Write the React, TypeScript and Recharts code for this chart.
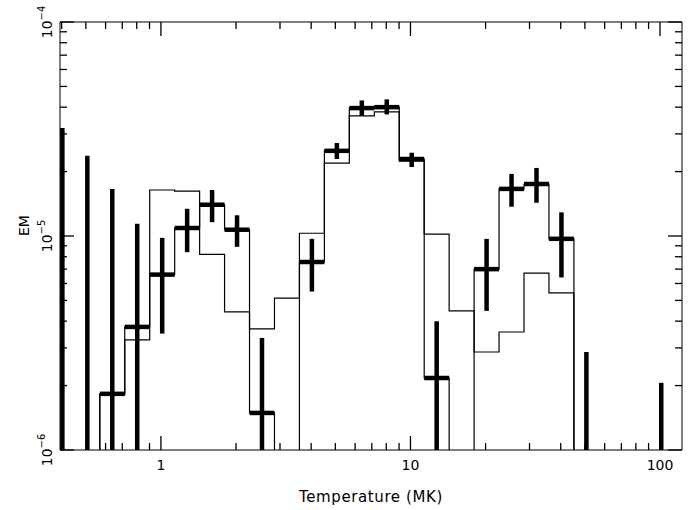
import React from "react";
import {
  ComposedChart,
  Line,
  XAxis,
  YAxis,
  ReferenceLine,
} from "recharts";

// bin centres: 10^(-0.4 + 0.1k), k = 0..24
const binIndex = Array.from({ length: 25 }, (_, k) => k);
const FLOOR = 1e-8; // below the plotted range

// thin histograms (null = below axis)
const modelA: (number | null)[] = [
  null, null, 1.83e-6, 3.27e-6, 1.64e-5, 1.62e-5, 8.2e-6, 4.42e-6, 3.68e-6,
  5.13e-6, 1.03e-5, 2.19e-5, 3.64e-5, 3.8e-5, 2.24e-5, 1.02e-5, 4.47e-6,
  2.87e-6, 3.56e-6, 6.7e-6, 5.42e-6, null, null, null, null,
];
const modelB: (number | null)[] = [
  null, null, 1.83e-6, 3.76e-6, 6.6e-6, 1.09e-5, 1.4e-5, 1.07e-5, 1.49e-6,
  null, 7.56e-6, 2.5e-5, 3.96e-5, 4.0e-5, 2.29e-5, 2.17e-6, null, 7.0e-6,
  1.66e-5, 1.75e-5, 9.7e-6, null, null, null, null,
];

// measured points with errors [k, value, lower, upper]
const points: [number, number, number, number][] = [
  [2, 1.83e-6, 1e-6, 1.66e-5],
  [3, 3.76e-6, 1e-6, 1.14e-5],
  [4, 6.6e-6, 3.5e-6, 9.8e-6],
  [5, 1.09e-5, 8.4e-6, 1.34e-5],
  [6, 1.4e-5, 1.16e-5, 1.64e-5],
  [7, 1.07e-5, 8.9e-6, 1.25e-5],
  [8, 1.49e-6, 1e-6, 3.34e-6],
  [10, 7.56e-6, 5.5e-6, 9.7e-6],
  [11, 2.5e-5, 2.29e-5, 2.72e-5],
  [12, 3.96e-5, 3.65e-5, 4.3e-5],
  [13, 4.0e-5, 3.7e-5, 4.35e-5],
  [14, 2.29e-5, 2.1e-5, 2.45e-5],
  [15, 2.17e-6, 1e-6, 4.0e-6],
  [17, 7.0e-6, 4.47e-6, 9.7e-6],
  [18, 1.66e-5, 1.37e-5, 1.95e-5],
  [19, 1.75e-5, 1.43e-5, 2.08e-5],
  [20, 9.7e-6, 6.4e-6, 1.29e-5],
];
// upper limits only [k, upper]
const limits: [number, number][] = [
  [0, 3.2e-5],
  [1, 2.37e-5],
  [21, 2.87e-6],
  [24, 2.06e-6],
];

const xMajor = [1, 10, 100];
const xTicks = [
  0.4, 0.5, 0.6, 0.7, 0.8, 0.9, 1, 2, 3, 4, 5, 6, 7, 8, 9, 10,
  20, 30, 40, 50, 60, 70, 80, 90, 100,
];
const yMajor = [1e-6, 1e-5, 1e-4];
const yTicks = [
  1e-6, 2e-6, 3e-6, 4e-6, 5e-6, 6e-6, 7e-6, 8e-6, 9e-6,
  1e-5, 2e-5, 3e-5, 4e-5, 5e-5, 6e-5, 7e-5, 8e-5, 9e-5, 1e-4,
];

const centre = (k: number) => Math.pow(10, -0.395 + 0.1 * k);
const edgeL = (k: number) => Math.pow(10, -0.445 + 0.1 * k);
const edgeR = (k: number) => Math.pow(10, -0.345 + 0.1 * k);

const steps = (vals: (number | null)[]) => {
  const out: { x: number; y: number }[] = [];
  binIndex.forEach((k) => {
    const v = vals[k] ?? FLOOR;
    out.push({ x: edgeL(k), y: v }, { x: edgeR(k), y: v });
  });
  return out;
};

const isMajor = (v: number, list: number[]) =>
  list.some((m) => Math.abs(m - v) / m < 1e-6);

const FONT = "DejaVu Sans";

const XTick = ({ x, y, payload, side }: any) => {
  const major = isMajor(payload.value, xMajor);
  const len = major ? 14 : 7;
  const dir = side === "top" ? 1 : -1;
  return (
    <g>
      <line x1={x} x2={x} y1={y} y2={y + dir * len} stroke="#000" strokeWidth={1.3} />
      {major && side !== "top" && (
        <text x={x} y={y + 20} textAnchor="middle" fontFamily={FONT} fontSize={14}>
          {payload.value}
        </text>
      )}
    </g>
  );
};

const YTick = ({ x, y, payload, side }: any) => {
  const major = isMajor(payload.value, yMajor);
  const len = major ? 14 : 7;
  const dir = side === "right" ? -1 : 1;
  const exp = Math.round(Math.log10(payload.value));
  return (
    <g>
      <line x1={x} x2={x + dir * len} y1={y} y2={y} stroke="#000" strokeWidth={1.3} />
      {major && side !== "right" && (
        <text
          transform={`translate(${x - 8},${y}) rotate(-90)`}
          textAnchor="middle"
          fontFamily={FONT}
          fontSize={14}
        >
          10
          <tspan dy={-7} fontSize={10}>
            {"\u2212" + Math.abs(exp)}
          </tspan>
        </text>
      )}
    </g>
  );
};

export default function App() {
  const thick = 4.5;
  return (
    <div style={{ position: "absolute", left: 0, top: 0, background: "#fff" }}>
      <ComposedChart
        width={695}
        height={510}
        margin={{ top: 0, right: 0, bottom: 0, left: 0 }}
      >
        <XAxis
          xAxisId={0}
          type="number"
          dataKey="x"
          scale="log"
          domain={[0.394, 122.5]}
          allowDataOverflow
          ticks={xTicks}
          interval={0}
          tickSize={0}
          tickMargin={0}
          tickLine={false}
          height={60}
          stroke="#000"
          tick={<XTick side="bottom" />}
          label={{
            value: "Temperature (MK)",
            position: "insideBottom",
            offset: 8,
            style: { fontFamily: FONT, fontSize: 15, letterSpacing: 0.6, fill: "#000" },
          }}
        />
        <XAxis
          xAxisId="top"
          orientation="top"
          type="number"
          dataKey="x"
          scale="log"
          domain={[0.394, 122.5]}
          allowDataOverflow
          ticks={xTicks}
          interval={0}
          tickSize={0}
          tickMargin={0}
          tickLine={false}
          height={22}
          stroke="#000"
          tick={<XTick side="top" />}
        />
        <YAxis
          yAxisId={0}
          type="number"
          scale="log"
          domain={[1e-6, 1e-4]}
          allowDataOverflow
          ticks={yTicks}
          interval={0}
          tickSize={0}
          tickMargin={0}
          tickLine={false}
          width={60}
          stroke="#000"
          tick={<YTick side="left" />}
          label={{
            value: "EM",
            angle: -90,
            position: "insideLeft",
            offset: 24,
            style: { fontFamily: FONT, fontSize: 14, fill: "#000" },
          }}
        />
        <YAxis
          yAxisId="right"
          orientation="right"
          type="number"
          scale="log"
          domain={[1e-6, 1e-4]}
          allowDataOverflow
          ticks={yTicks}
          interval={0}
          tickSize={0}
          tickMargin={0}
          tickLine={false}
          width={13}
          stroke="#000"
          tick={<YTick side="right" />}
        />
        <Line
          data={steps(modelA)}
          dataKey="y"
          type="linear"
          stroke="#000"
          strokeWidth={1.2}
          dot={false}
          isAnimationActive={false}
        />
        <Line
          data={steps(modelB)}
          dataKey="y"
          type="linear"
          stroke="#000"
          strokeWidth={1.2}
          dot={false}
          isAnimationActive={false}
        />
        {points.map(([k, v, lo, hi]) => (
          <ReferenceLine
            key={`v${k}`}
            segment={[
              { x: centre(k), y: lo },
              { x: centre(k), y: hi },
            ]}
            stroke="#000"
            strokeWidth={thick}
            ifOverflow="visible"
          />
        ))}
        {points.map(([k, v]) => (
          <ReferenceLine
            key={`h${k}`}
            segment={[
              { x: edgeL(k), y: v },
              { x: edgeR(k), y: v },
            ]}
            stroke="#000"
            strokeWidth={thick}
            ifOverflow="visible"
          />
        ))}
        {limits.map(([k, hi]) => (
          <ReferenceLine
            key={`l${k}`}
            segment={[
              { x: centre(k), y: 1e-6 },
              { x: centre(k), y: hi },
            ]}
            stroke="#000"
            strokeWidth={thick}
            ifOverflow="visible"
          />
        ))}
      </ComposedChart>
    </div>
  );
}
